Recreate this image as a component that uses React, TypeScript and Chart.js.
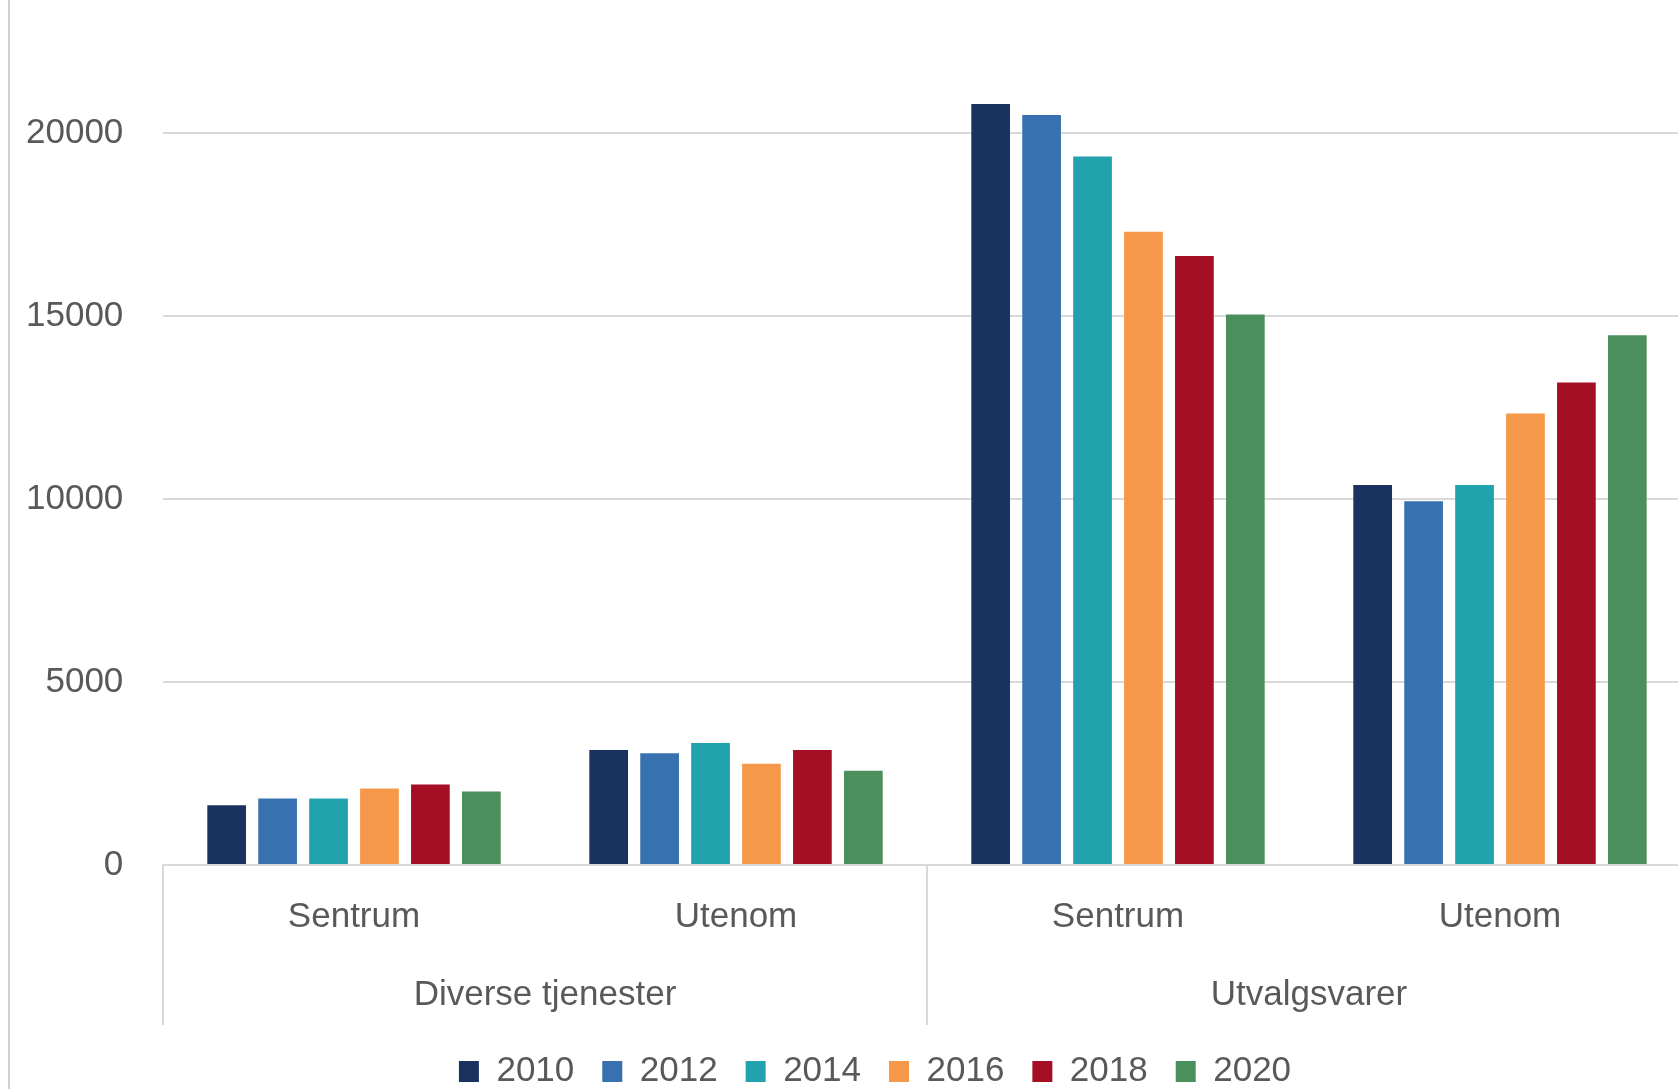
import React, { useEffect, useRef } from "react";
import { Chart, registerables } from "chart.js";

Chart.register(...registerables);

const categories = ["Sentrum", "Utenom", "Sentrum", "Utenom"];
const groups = ["Diverse tjenester", "Utvalgsvarer"];
const years = ["2010", "2012", "2014", "2016", "2018", "2020"];

const values2010 = [1630, 3140, 20790, 10380];
const values2012 = [1815, 3055, 20490, 9935];
const values2014 = [1815, 3330, 19360, 10380];
const values2016 = [2090, 2765, 17300, 12335];
const values2018 = [2200, 3140, 16640, 13180];
const values2020 = [2005, 2575, 15040, 14470];

const seriesValues = [values2010, values2012, values2014, values2016, values2018, values2020];
const seriesColors = ["#1a3260", "#3871b0", "#22a2ad", "#f5984a", "#a50f24", "#4b8f5d"];

const yTicks = [0, 5000, 10000, 15000, 20000];

const FONT = "'Liberation Sans', Arial, sans-serif";
const TEXT = "#595959";
const GRID = "#d9d9d9";

const CW = 1701;
const CH = 1099;

const framePlugin = {
  id: "frameLine",
  beforeDraw(chart: any) {
    const ctx = chart.ctx;
    ctx.save();
    ctx.fillStyle = "#ffffff";
    ctx.fillRect(0, 0, chart.width, chart.height);
    ctx.strokeStyle = "#cfcfcf";
    ctx.lineWidth = 2;
    ctx.beginPath();
    ctx.moveTo(9, 0);
    ctx.lineTo(9, chart.height);
    ctx.stroke();
    ctx.restore();
  },
};

export default function App() {
  const ref = useRef<HTMLCanvasElement | null>(null);

  useEffect(() => {
    if (!ref.current) return;
    const chart = new Chart(ref.current, {
      type: "bar",
      data: {
        labels: categories,
        datasets: years.map((y, i) => ({
          label: y,
          data: seriesValues[i],
          backgroundColor: seriesColors[i],
          borderWidth: 0,
          categoryPercentage: 0.8,
          barPercentage: 0.76,
        })),
      },
      options: {
        responsive: false,
        animation: false,
        devicePixelRatio: 1,
        layout: { padding: { left: 59, right: 10, top: 40, bottom: 0 } },
        plugins: {
          tooltip: { enabled: false },
          legend: {
            position: "bottom",
            labels: {
              font: { family: FONT, size: 35 },
              color: TEXT,
              boxWidth: 20,
              boxHeight: 21,
              padding: 28,
            },
          },
        },
        scales: {
          y: {
            min: 0,
            max: 22540,
            afterBuildTicks: (axis: any) => {
              axis.ticks = yTicks.map((v) => ({ value: v }));
            },
            afterFit: (s: any) => {
              s.width = 104;
            },
            border: { display: false },
            grid: {
              color: GRID,
              lineWidth: 2,
              drawTicks: false,
            },
            ticks: {
              font: { family: FONT, size: 35 },
              color: TEXT,
              mirror: true,
              crossAlign: "far",
              padding: -137,
              callback: (v: any) => String(v),
            },
          },
          x: {
            type: "category",
            position: "bottom",
            weight: 0,
            offset: true,
            afterFit: (s: any) => {
              s.height = 100;
            },
            border: { display: true, color: GRID, width: 2 },
            grid: {
              offset: true,
              drawOnChartArea: false,
              drawTicks: true,
              tickLength: 160,
              lineWidth: 2,
              color: (c: any) => (c.index % 2 === 0 ? GRID : "transparent"),
              tickColor: (c: any) => (c.index % 2 === 0 ? GRID : "transparent"),
            },
            ticks: {
              font: { family: FONT, size: 35 },
              color: TEXT,
              padding: -129,
              autoSkip: false,
              maxRotation: 0,
              minRotation: 0,
            },
          },
          x2: {
            type: "category",
            position: "bottom",
            weight: 1,
            labels: groups,
            offset: true,
            afterFit: (s: any) => {
              s.height = 61;
            },
            border: { display: false },
            grid: { display: false, drawTicks: false, drawOnChartArea: false },
            ticks: {
              font: { family: FONT, size: 35 },
              color: TEXT,
              padding: 9,
              autoSkip: false,
              maxRotation: 0,
              minRotation: 0,
            },
          },
        },
      },
      plugins: [framePlugin],
    } as any);
    return () => chart.destroy();
  }, []);

  return (
    <div
      style={{
        position: "fixed",
        left: 0,
        top: 0,
        width: "100vw",
        height: "100vh",
        overflow: "hidden",
        background: "#ffffff",
      }}
    >
      <canvas
        ref={ref}
        width={CW}
        height={CH}
        style={{ display: "block", width: CW, height: CH }}
      />
    </div>
  );
}
